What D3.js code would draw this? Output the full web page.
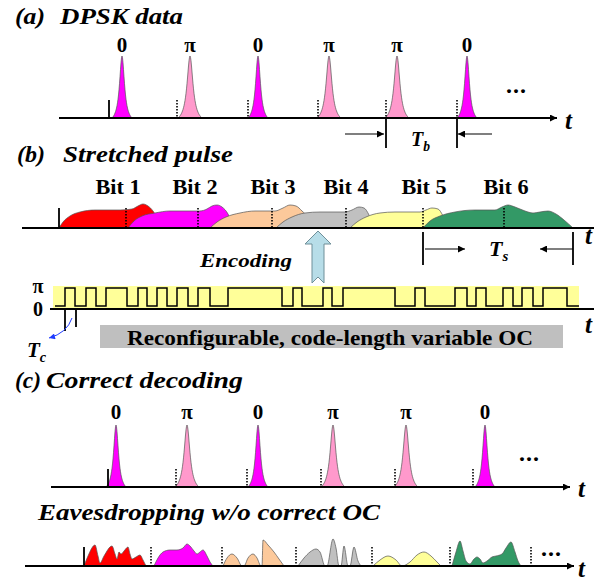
<!DOCTYPE html>
<html>
<head>
<meta charset="utf-8">
<script src="https://cdn.jsdelivr.net/npm/d3@7"></script>
<style>
  body { margin: 0; background: #fff; }
  svg { display: block; }
  text { font-family: "Liberation Serif", "Times New Roman", serif; font-weight: bold; fill: #000; }
  .it { font-style: italic; }
</style>
</head>
<body>
<div id="fig"></div>
<script>
// ---- data (time in ps along the figure, amplitudes in arbitrary units) ----
var dpskPhases = ["0", "π", "0", "π", "π", "0"];
var slotA = [69, 137, 208, 278, 346, 417];   // bit slot starts, panel (a)
var peakA = [82, 150, 218, 289, 357, 427];   // pulse peaks, panel (a)
var slotC = [68, 136, 207, 281, 355, 433];   // panel (c)
var peakC = [76, 147, 218, 293, 366, 445];

var bitNames = ["Bit 1", "Bit 2", "Bit 3", "Bit 4", "Bit 5", "Bit 6"];
var bitLabelT = [78, 155, 233, 306, 384, 466];
var bitEdgesB = [19, 86, 158, 232, 306, 383, 464];
var bitColors = ["#ff0000", "#ff00ff", "#fcc99b", "#c0c0c0", "#ffff99", "#339966"];

var stretchRed = [[19,0],[23,6],[30,12],[40,16],[55,18],[80,18],[92,19],[98,22],[103,24],[108,22],[113,17],[117,10],[120,0]];
var stretchMag = [[88,0],[94,7],[102,12],[115,15],[130,17],[160,17],[167,19],[172,22],[177,23],[182,21],[188,14],[192,5],[194,0]];
var stretchPea = [[170,0],[177,6],[186,11],[200,15],[215,17],[235,17],[243,20],[250,23],[256,22],[262,17],[268,10],[272,0]];
var stretchGry = [[236,0],[243,6],[252,11],[265,15],[280,16],[305,16],[312,18],[319,21],[324,20],[329,13],[334,0]];
var stretchYel = [[310,0],[317,6],[326,11],[340,15],[355,16],[380,16],[386,18],[392,20],[398,19],[403,12],[408,0]];
var stretchGrn = [[383,0],[390,7],[400,12],[415,16],[435,18],[455,18],[462,21],[468,23],[475,21],[485,17],[493,15],[500,16],[508,17],[516,14],[524,8],[533,0]];

var codeSpan = [15, 539];
var codeHigh = [[25,35],[46,56],[66,87],[98,107],[117,127],[137,148],[158,170],[188,242],[253,262],
                [283,292],[303,355],[375,385],[415,427],[436,446],[463,473],[482,493],[503,527]];

var eavesEdges = [44, 111, 182, 256, 332, 410, 491];
var eavesRed = [[44,0],[48,10],[55,21],[58,10],[60,3],[64,10],[72,20],[75,12],[77,7],[79,14],[81,12],[84,15],[88,19],[90,12],[92,7],[96,9],[100,11],[103,6],[106,0]];
var eavesMag = [[114,0],[118,8],[123,14],[130,16],[137,16],[143,18],[147,22],[150,20],[154,15],[157,12],[160,14],[163,16],[167,10],[170,4],[173,0]];
var eavesPea = [[183,0],[187,8],[192,12],[197,8],[202,0],[204,0],[208,8],[213,12],[217,8],[221,0],[222,0],[223,26],[228,21],[234,14],[239,7],[244,0]];
var eavesGry = [[258,0],[264,8],[270,14],[276,17],[280,14],[285,0],[287,0],[293,27],[296,18],[299,0],[301,0],[304,20],[308,0],[310,0],[314,19],[318,5],[321,0]];
var eavesYel = [[333,0],[340,6],[348,10],[356,6],[362,0],[370,4],[377,11],[384,14],[391,10],[397,4],[401,0]];
var eavesGrn = [[412,0],[416,14],[420,25],[423,15],[426,5],[430,2],[434,7],[437,9],[440,7],[443,3],[447,5],[452,9],[456,10],[462,12],[466,18],[471,24],[475,14],[478,5],[481,0]];

var stretched = [stretchRed, stretchMag, stretchPea, stretchGry, stretchYel, stretchGrn];
var eaves = [eavesRed, eavesMag, eavesPea, eavesGry, eavesYel, eavesGrn];

// ---- drawing ----
var width = 594, height = 581;
var svg = d3.select("#fig").append("svg").attr("width", width).attr("height", height);

var defs = svg.append("defs");
defs.append("marker").attr("id", "arr").attr("viewBox", "0 0 10 10")
    .attr("refX", 10).attr("refY", 5).attr("markerWidth", 9).attr("markerHeight", 7)
    .attr("markerUnits", "userSpaceOnUse").attr("orient", "auto")
    .append("path").attr("d", "M0,0 L10,5 L0,10 z").attr("fill", "#000");
defs.append("marker").attr("id", "arrB").attr("viewBox", "0 0 10 10")
    .attr("refX", 10).attr("refY", 5).attr("markerWidth", 7).attr("markerHeight", 6)
    .attr("markerUnits", "userSpaceOnUse").attr("orient", "auto")
    .append("path").attr("d", "M0,0 L10,5 L0,10 z").attr("fill", "#1f3cff");

var xT = d3.scaleLinear().domain([0, 550]).range([40, 590]);

function pulsePts(c, half, w) {
    var edge = 1 / (1 + (half / w) * (half / w));
    return d3.range(-half, half + 0.01, 0.5).map(function (d) {
        return [c + d, (1 / (1 + (d / w) * (d / w)) - edge) / (1 - edge)];
    });
}

function axisLine(y, x1, x2, arrow) {
    var l = svg.append("line").attr("x1", x1).attr("x2", x2).attr("y1", y).attr("y2", y)
        .attr("stroke", "#000").attr("stroke-width", 2);
    if (arrow) l.attr("marker-end", "url(#arr)");
}

function tLabel(x, y) {
    svg.append("text").attr("class", "it").attr("x", x).attr("y", y)
        .attr("font-size", 25).text("t");
}

function subLabel(x, y, main, sub, fs) {
    var t = svg.append("text").attr("class", "it").attr("x", x).attr("y", y).attr("font-size", fs);
    t.append("tspan").text(main);
    t.append("tspan").attr("font-size", fs * 0.68).attr("dy", 5).text(sub);
}

function marker(x, yTop, yBot, solid) {
    svg.append("line").attr("x1", x).attr("x2", x).attr("y1", yTop).attr("y2", yBot)
        .attr("stroke", "#000").attr("stroke-width", solid ? 1.8 : 1.6)
        .attr("stroke-dasharray", solid ? null : "1.5,1.5");
}

function dots(x, y) {
    svg.append("text").attr("x", x).attr("y", y).attr("font-size", 24).attr("letter-spacing", 1).text("...");
}

// DPSK pulse train (panels a and c)
function pulseTrain(slots, peaks, axisY, peakY, labelY) {
    var y = d3.scaleLinear().domain([0, 1]).range([axisY, peakY]);
    var area = d3.area().x(function (d) { return xT(d[0]); })
        .y0(axisY).y1(function (d) { return y(d[1]); });
    dpskPhases.forEach(function (ph, i) {
        var zero = ph === "0";
        svg.append("path").datum(pulsePts(peaks[i], zero ? 10 : 12, zero ? 3 : 3.6))
            .attr("d", area).attr("fill", zero ? "#ff00ff" : "#ff99cc")
            .attr("stroke", "#555").attr("stroke-width", 0.7);
        marker(xT(slots[i]), y(0.29), axisY, i === 0);
        svg.append("text").attr("x", xT(peaks[i])).attr("y", labelY)
            .attr("text-anchor", "middle").attr("font-size", 21).text(ph);
    });
}

// ---------- (a) ----------
svg.append("text").attr("class", "it").attr("x", 15).attr("y", 24).attr("font-size", 23)
    .attr("textLength", 30).attr("lengthAdjust", "spacingAndGlyphs").text("(a)");
svg.append("text").attr("class", "it").attr("x", 60).attr("y", 24).attr("font-size", 23)
    .attr("textLength", 123).attr("lengthAdjust", "spacingAndGlyphs").text("DPSK data");
pulseTrain(slotA, peakA, 118, 56, 52);
axisLine(118, 59, 557, true);
tLabel(565, 129);
dots(xT(466), 93);
// Tb
[slotA[4], slotA[5]].forEach(function (s) { marker(xT(s), 118, 148, true); });
svg.append("line").attr("x1", xT(305)).attr("x2", xT(344)).attr("y1", 134).attr("y2", 134)
    .attr("stroke", "#000").attr("stroke-width", 1.2).attr("marker-end", "url(#arr)");
svg.append("line").attr("x1", xT(452)).attr("x2", xT(418)).attr("y1", 134).attr("y2", 134)
    .attr("stroke", "#000").attr("stroke-width", 1.2).attr("marker-end", "url(#arr)");
subLabel(411, 146, "T", "b", 20);

// ---------- (b) ----------
svg.append("text").attr("class", "it").attr("x", 17).attr("y", 162).attr("font-size", 23)
    .attr("textLength", 28).attr("lengthAdjust", "spacingAndGlyphs").text("(b)");
svg.append("text").attr("class", "it").attr("x", 63).attr("y", 162).attr("font-size", 23)
    .attr("textLength", 170).attr("lengthAdjust", "spacingAndGlyphs").text("Stretched pulse");

var yB = d3.scaleLinear().domain([0, 25]).range([228, 203]);
var areaB = d3.area().x(function (d) { return xT(d[0]); }).y0(228)
    .y1(function (d) { return yB(d[1]); }).curve(d3.curveMonotoneX);
stretched.forEach(function (pts, i) {
    svg.append("path").datum(pts).attr("d", areaB).attr("fill", bitColors[i])
        .attr("stroke", "#555").attr("stroke-width", 0.7);
});
bitEdgesB.forEach(function (t, i) { marker(xT(t), yB(20), 228, i === 0); });
bitNames.forEach(function (b, i) {
    svg.append("text").attr("x", xT(bitLabelT[i])).attr("y", 194).attr("text-anchor", "middle")
        .attr("font-size", 20).attr("textLength", 45).attr("lengthAdjust", "spacingAndGlyphs").text(b);
});
axisLine(228, 22, 594, false);
tLabel(585, 244);
// Ts
[bitEdgesB[5], stretchGrn[stretchGrn.length - 1][0]].forEach(function (t) { marker(xT(t), 232, 265, true); });
svg.append("line").attr("x1", xT(385)).attr("x2", xT(425)).attr("y1", 249).attr("y2", 249)
    .attr("stroke", "#000").attr("stroke-width", 1.2).attr("marker-end", "url(#arr)");
svg.append("line").attr("x1", xT(533)).attr("x2", xT(500)).attr("y1", 249).attr("y2", 249)
    .attr("stroke", "#000").attr("stroke-width", 1.2).attr("marker-end", "url(#arr)");
subLabel(489, 256, "T", "s", 22);

// Encoding arrow
var ax = 318;
svg.append("path")
    .attr("d", "M" + ax + ",231 L" + (ax + 13) + ",244 L" + (ax + 6) + ",244 L" + (ax + 6) + ",283 L" + ax + ",277 L" +
        (ax - 6) + ",283 L" + (ax - 6) + ",244 L" + (ax - 13) + ",244 Z")
    .attr("fill", "#b7dde8").attr("stroke", "#6f8f99").attr("stroke-width", 1);
svg.append("text").attr("class", "it").attr("x", 200).attr("y", 267).attr("font-size", 19)
    .attr("textLength", 92).attr("lengthAdjust", "spacingAndGlyphs").text("Encoding");

// Optical code
var yCode = d3.scaleLinear().domain([0, 1]).range([306, 288]);
svg.append("rect").attr("x", xT(13)).attr("y", 286).attr("width", xT(539) - xT(13)).attr("height", 22)
    .attr("fill", "#ffff99");
var codePts = [[codeSpan[0], 0]];
codeHigh.forEach(function (c) { codePts.push([c[0], 0], [c[0], 1], [c[1], 1], [c[1], 0]); });
codePts.push([codeSpan[1], 0]);
svg.append("path").datum(codePts)
    .attr("d", d3.line().x(function (d) { return xT(d[0]); }).y(function (d) { return yCode(d[1]); }))
    .attr("fill", "none").attr("stroke", "#000").attr("stroke-width", 1.5);
axisLine(309, 50, 594, false);
svg.append("text").attr("x", 38).attr("y", 293).attr("text-anchor", "middle").attr("font-size", 20).text("π");
svg.append("text").attr("x", 38).attr("y", 316).attr("text-anchor", "middle").attr("font-size", 20).text("0");
tLabel(585, 333);
// Tc
marker(xT(codeHigh[0][0]), 309, 331, true);
marker(xT(codeHigh[0][1] + 1), 309, 327, true);
svg.append("path").attr("d", "M72,318 Q67,333 49,338").attr("fill", "none")
    .attr("stroke", "#1f3cff").attr("stroke-width", 1).attr("marker-end", "url(#arrB)");
subLabel(27, 357, "T", "c", 21);

svg.append("rect").attr("x", 100).attr("y", 325).attr("width", 463).attr("height", 23).attr("fill", "#bfbfbf");
svg.append("text").attr("x", 127).attr("y", 345).attr("font-size", 21)
    .attr("textLength", 406).attr("lengthAdjust", "spacingAndGlyphs")
    .text("Reconfigurable, code-length variable OC");

// ---------- (c) ----------
svg.append("text").attr("class", "it").attr("x", 15).attr("y", 388).attr("font-size", 23)
    .attr("textLength", 26).attr("lengthAdjust", "spacingAndGlyphs").text("(c)");
svg.append("text").attr("class", "it").attr("x", 46).attr("y", 388).attr("font-size", 23)
    .attr("textLength", 197).attr("lengthAdjust", "spacingAndGlyphs").text("Correct decoding");
pulseTrain(slotC, peakC, 487, 425, 419);
axisLine(487, 51, 570, true);
tLabel(578, 497);
dots(xT(479), 461);

// Eavesdropping
svg.append("text").attr("class", "it").attr("x", 38).attr("y", 520).attr("font-size", 23)
    .attr("textLength", 342).attr("lengthAdjust", "spacingAndGlyphs").text("Eavesdropping w/o correct OC");
var yE = d3.scaleLinear().domain([0, 25]).range([566, 541]);
var areaE = d3.area().x(function (d) { return xT(d[0]); }).y0(566)
    .y1(function (d) { return yE(d[1]); }).curve(d3.curveMonotoneX);
eaves.forEach(function (pts, i) {
    svg.append("path").datum(pts).attr("d", areaE).attr("fill", bitColors[i])
        .attr("stroke", "#555").attr("stroke-width", 0.7);
});
eavesEdges.forEach(function (t, i) { marker(xT(t), yE(19), 566, i === 0); });
axisLine(566, 25, 574, true);
tLabel(578, 577);
dots(xT(501), 556);
</script>
</body>
</html>
